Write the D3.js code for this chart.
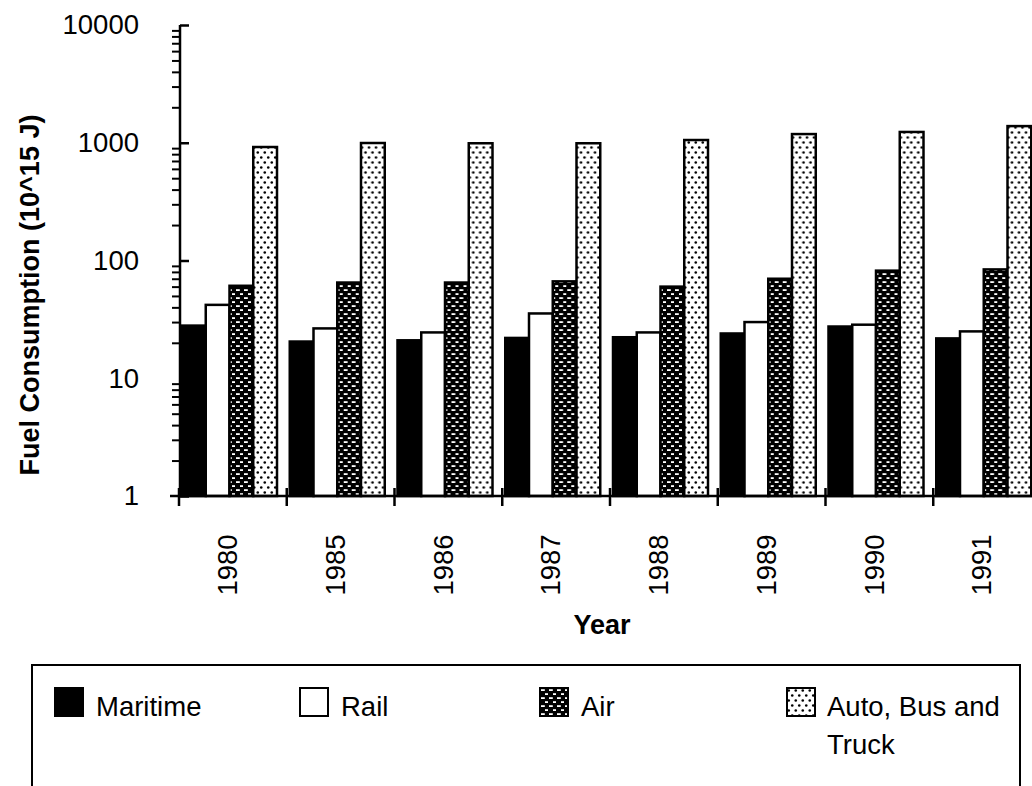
<!DOCTYPE html>
<html>
<head>
<meta charset="utf-8">
<script src="https://cdn.jsdelivr.net/npm/d3@7"></script>
<style>
  html, body { margin: 0; padding: 0; background: #fff; }
  svg { display: block; font-family: "Liberation Sans", Arial, Helvetica, sans-serif; }
</style>
</head>
<body>
<div id="chart"></div>
<script>
// values
const years = ['1980', '1985', '1986', '1987', '1988', '1989', '1990', '1991'];
const maritime = [28, 20.5, 21, 22, 22.3, 24, 27.5, 21.8];
const rail = [42, 26.5, 24.5, 35.5, 24.5, 30, 28.5, 25];
const air = [61, 65, 65, 66.5, 60, 70, 82, 84];
const auto = [920, 995, 990, 990, 1055, 1185, 1235, 1385];
const seriesNames = ['Maritime', 'Rail', 'Air', 'Auto, Bus and Truck'];
const majorTicks = [1, 10, 100, 1000, 10000];

const width = 1032, height = 786;
const svg = d3.select('#chart').append('svg')
    .attr('width', width)
    .attr('height', height);

const defs = svg.append('defs');
// Air: black with staggered white dashes
const pAir = defs.append('pattern').attr('id', 'pAir')
    .attr('patternUnits', 'userSpaceOnUse').attr('width', 8).attr('height', 8);
pAir.append('rect').attr('width', 8).attr('height', 8).attr('fill', '#000');
pAir.append('rect').attr('x', 1).attr('y', 1.2).attr('width', 3.8).attr('height', 1.8).attr('fill', '#fff');
pAir.append('rect').attr('x', 5).attr('y', 5.2).attr('width', 3.8).attr('height', 1.8).attr('fill', '#fff');
// Auto: white with staggered black dots
const pAuto = defs.append('pattern').attr('id', 'pAuto')
    .attr('patternUnits', 'userSpaceOnUse').attr('width', 7).attr('height', 10);
pAuto.append('rect').attr('width', 7).attr('height', 10).attr('fill', '#fff');
pAuto.append('circle').attr('cx', 1.75).attr('cy', 2.5).attr('r', 1.3).attr('fill', '#000');
pAuto.append('circle').attr('cx', 5.25).attr('cy', 7.5).attr('r', 1.3).attr('fill', '#000');

const fills = ['#000', '#fff', 'url(#pAir)', 'url(#pAuto)'];

const x0 = 179, x1 = 1041, yTop = 25, yBot = 496;

const x = d3.scaleBand()
    .domain(years)
    .range([x0, x1])
    .paddingInner(0)
    .paddingOuter(0);

const y = d3.scaleLog()
    .domain([1, 10000])
    .range([yBot, yTop]);

const barOffset = 3;
const barW = 23.75;

const rows = years.map((yr, i) => ({
    year: yr,
    values: [maritime[i], rail[i], air[i], auto[i]]
}));

// bars
const groups = svg.append('g').selectAll('g')
    .data(rows)
    .join('g')
    .attr('transform', d => `translate(${x(d.year)},0)`);

groups.selectAll('rect')
    .data(d => d.values.map((v, k) => ({ v, k })))
    .join('rect')
    .attr('x', d => barOffset + d.k * barW)
    .attr('y', d => y(d.v))
    .attr('width', barW)
    .attr('height', d => yBot - y(d.v))
    .attr('fill', d => fills[d.k])
    .attr('stroke', '#000')
    .attr('stroke-width', 2.5);

// y axis: minor ticks
const minors = [];
[1, 10, 100, 1000].forEach(dec => {
    for (let m = 2; m <= 9; m++) minors.push(dec * m);
});

svg.append('g')
    .attr('transform', `translate(180,0)`)
    .call(d3.axisLeft(y).tickValues(minors).tickSize(8).tickFormat(''))
    .call(g => g.select('.domain').remove())
    .call(g => g.selectAll('line').attr('stroke', '#000').attr('stroke-width', 2));

const yAxis = svg.append('g')
    .attr('transform', `translate(180,0)`)
    .call(d3.axisLeft(y).tickValues(majorTicks).tickSize(10).tickPadding(31).tickFormat(d3.format('d')).tickSizeOuter(0));
yAxis.select('.domain').attr('stroke', '#000').attr('stroke-width', 2.5)
    .attr('d', `M0,${yTop}V${yBot}`);
yAxis.selectAll('.tick line').attr('stroke', '#000').attr('stroke-width', 2.5).attr('x2', 9);
yAxis.selectAll('.tick text')
    .attr('fill', '#000')
    .style('font-size', '27.5px');

// x axis
const xAxis = svg.append('g');
xAxis.append('line')
    .attr('x1', 170).attr('x2', x1)
    .attr('y1', yBot).attr('y2', yBot)
    .attr('stroke', '#000').attr('stroke-width', 2.5);
const bounds = years.map(d => x(d)).concat([x1]);
xAxis.selectAll('.xt')
    .data(bounds)
    .join('line')
    .attr('class', 'xt')
    .attr('x1', d => d).attr('x2', d => d)
    .attr('y1', yBot - 8).attr('y2', yBot + 10)
    .attr('stroke', '#000').attr('stroke-width', 2.5);
xAxis.selectAll('.xl')
    .data(years)
    .join('text')
    .attr('class', 'xl')
    .attr('transform', d => `translate(${x(d) + 58},565) rotate(-90)`)
    .attr('text-anchor', 'middle')
    .style('font-size', '27.5px')
    .text(d => d);

// axis titles
svg.append('text')
    .attr('transform', 'translate(39,295) rotate(-90)')
    .attr('text-anchor', 'middle')
    .style('font-size', '27px')
    .style('font-weight', 'bold')
    .text('Fuel Consumption (10^15 J)');

svg.append('text')
    .attr('x', 602)
    .attr('y', 634)
    .attr('text-anchor', 'middle')
    .style('font-size', '27px')
    .style('font-weight', 'bold')
    .text('Year');

// legend
const legend = svg.append('g');
legend.append('rect')
    .attr('x', 32).attr('y', 665)
    .attr('width', 988).attr('height', 160)
    .attr('fill', 'none')
    .attr('stroke', '#000')
    .attr('stroke-width', 2);

const legendX = [55, 300, 540, 787];
const item = legend.selectAll('.li')
    .data(seriesNames)
    .join('g')
    .attr('class', 'li')
    .attr('transform', (d, i) => `translate(${legendX[i]},688)`);
item.append('rect')
    .attr('width', 28).attr('height', 28)
    .attr('fill', (d, i) => fills[i])
    .attr('stroke', '#000')
    .attr('stroke-width', 2);
item.append('text')
    .attr('x', 41)
    .attr('y', 28)
    .style('font-size', '27.5px')
    .each(function (d) {
        const t = d3.select(this);
        if (d === 'Auto, Bus and Truck') {
            t.append('tspan').attr('x', 40).text('Auto, Bus and');
            t.append('tspan').attr('x', 40).attr('dy', 38).text('Truck');
        } else {
            t.text(d);
        }
    });
</script>
</body>
</html>
